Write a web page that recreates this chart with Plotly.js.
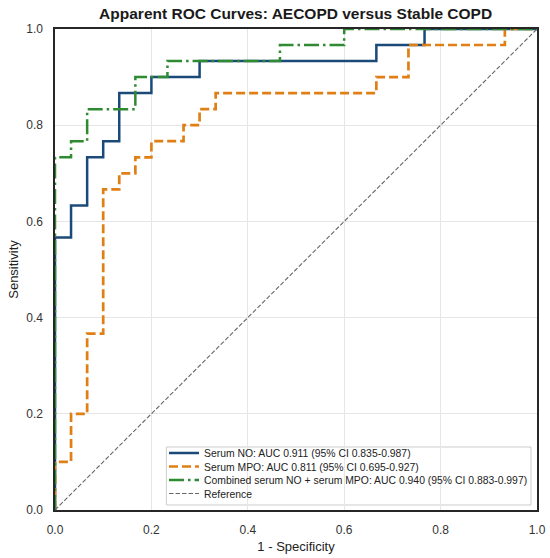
<!DOCTYPE html>
<html>
<head>
<meta charset="utf-8">
<script src="https://cdn.plot.ly/plotly-3.0.1.min.js"></script>
<style>html,body{margin:0;padding:0;background:#fff;}#chart{width:550px;height:558px;}</style>
</head>
<body>
<div id="chart"></div>
<script>
// ROC step points (1 - specificity, sensitivity)
const noFpr  = [0, 0, 0.0333, 0.0667, 0.1000, 0.1333, 0.2000, 0.3000, 0.6667, 0.7667, 1];
const noTpr  = [0, 0.5667, 0.6333, 0.7333, 0.7667, 0.8667, 0.9000, 0.9333, 0.9667, 1, 1];

const mpoFpr = [0, 0, 0.0333, 0.0667, 0.1000, 0.1333, 0.1667, 0.2000, 0.2667, 0.3000, 0.3333, 0.6667, 0.7333, 0.9333, 1];
const mpoTpr = [0, 0.1000, 0.2000, 0.3667, 0.6667, 0.7000, 0.7333, 0.7667, 0.8000, 0.8333, 0.8667, 0.9000, 0.9667, 1, 1];

const combFpr = [0, 0, 0.0333, 0.0667, 0.1667, 0.2333, 0.4667, 0.6000, 1];
const combTpr = [0, 0.7333, 0.7667, 0.8333, 0.9000, 0.9333, 0.9667, 1, 1];

const refX = [0, 1];
const refY = [0, 1];

const seriesNames = [
  "Serum NO: AUC 0.911 (95% CI 0.835-0.987)",
  "Serum MPO: AUC 0.811 (95% CI 0.695-0.927)",
  "Combined serum NO + serum MPO: AUC 0.940 (95% CI 0.883-0.997)",
  "Reference"
];
const tickVals = [0, 0.2, 0.4, 0.6, 0.8, 1.0];
const tickText = ["0.0", "0.2", "0.4", "0.6", "0.8", "1.0"];

const FONT = "Liberation Sans, Arial, sans-serif";

const traces = [
  {x: noFpr, y: noTpr, name: seriesNames[0], mode: "lines", legend: "legend",
   line: {shape: "hv", color: "#1b4a7a", width: 2.5}},
  {x: mpoFpr, y: mpoTpr, name: seriesNames[1], mode: "lines", legend: "legend2",
   line: {shape: "hv", color: "#df7f16", width: 2.7, dash: "9px,4px"}},
  {x: combFpr, y: combTpr, name: seriesNames[2], mode: "lines", legend: "legend3",
   line: {shape: "hv", color: "#2e8b31", width: 2.5, dash: "15px,4px,2.5px,4px"}},
  {x: refX, y: refY, name: seriesNames[3], mode: "lines", legend: "legend4",
   line: {color: "#666666", width: 1.1, dash: "4.5px,2px"}}
];

const axisCommon = {
  range: [0, 1],
  tickvals: tickVals,
  ticktext: tickText,
  showgrid: true,
  gridcolor: "#e6e6e6",
  gridwidth: 1,
  zeroline: false,
  showline: true,
  linecolor: "#262626",
  linewidth: 1.6,
  mirror: true,
  ticks: "",
  tickfont: {family: FONT, size: 12, color: "#333333"}
};

function legendAt(yPos) {
  return {
    x: 0.2262, y: yPos, xanchor: "left", yanchor: "middle",
    bgcolor: "rgba(0,0,0,0)", borderwidth: 0,
    font: {family: FONT, size: 10.4, color: "#222"},
    itemwidth: 30
  };
}

const layout = {
  width: 550,
  height: 558,
  margin: {l: 54.5, r: 13, t: 29, b: 48},
  paper_bgcolor: "#ffffff",
  plot_bgcolor: "#ffffff",
  title: {text: "<b>Apparent ROC Curves: AECOPD versus Stable COPD</b>",
          font: {family: FONT, size: 15.5, color: "#1a1a1a"},
          x: 0.5375, xanchor: "center", y: 0.975, yanchor: "middle"},
  xaxis: Object.assign({}, axisCommon, {
    title: {text: "1 - Specificity", font: {family: FONT, size: 13, color: "#222"}, standoff: 6},
    ticklabelstandoff: 8
  }),
  yaxis: Object.assign({}, axisCommon, {
    title: {text: "Sensitivity", font: {family: FONT, size: 13, color: "#222"}, standoff: 5},
    ticklabelstandoff: 8
  }),
  showlegend: true,
  legend: legendAt(0.1185),
  legend2: legendAt(0.0904),
  legend3: legendAt(0.0624),
  legend4: legendAt(0.0343),
  shapes: [{
    type: "rect", xref: "paper", yref: "paper", layer: "between",
    x0: 0.2311, x1: 0.9876, y0: 0.0104, y1: 0.131,
    fillcolor: "rgba(255,255,255,0.85)",
    line: {color: "#cccccc", width: 1}
  }]
};

Plotly.newPlot("chart", traces, layout, {displayModeBar: false, staticPlot: true});
</script>
</body>
</html>
